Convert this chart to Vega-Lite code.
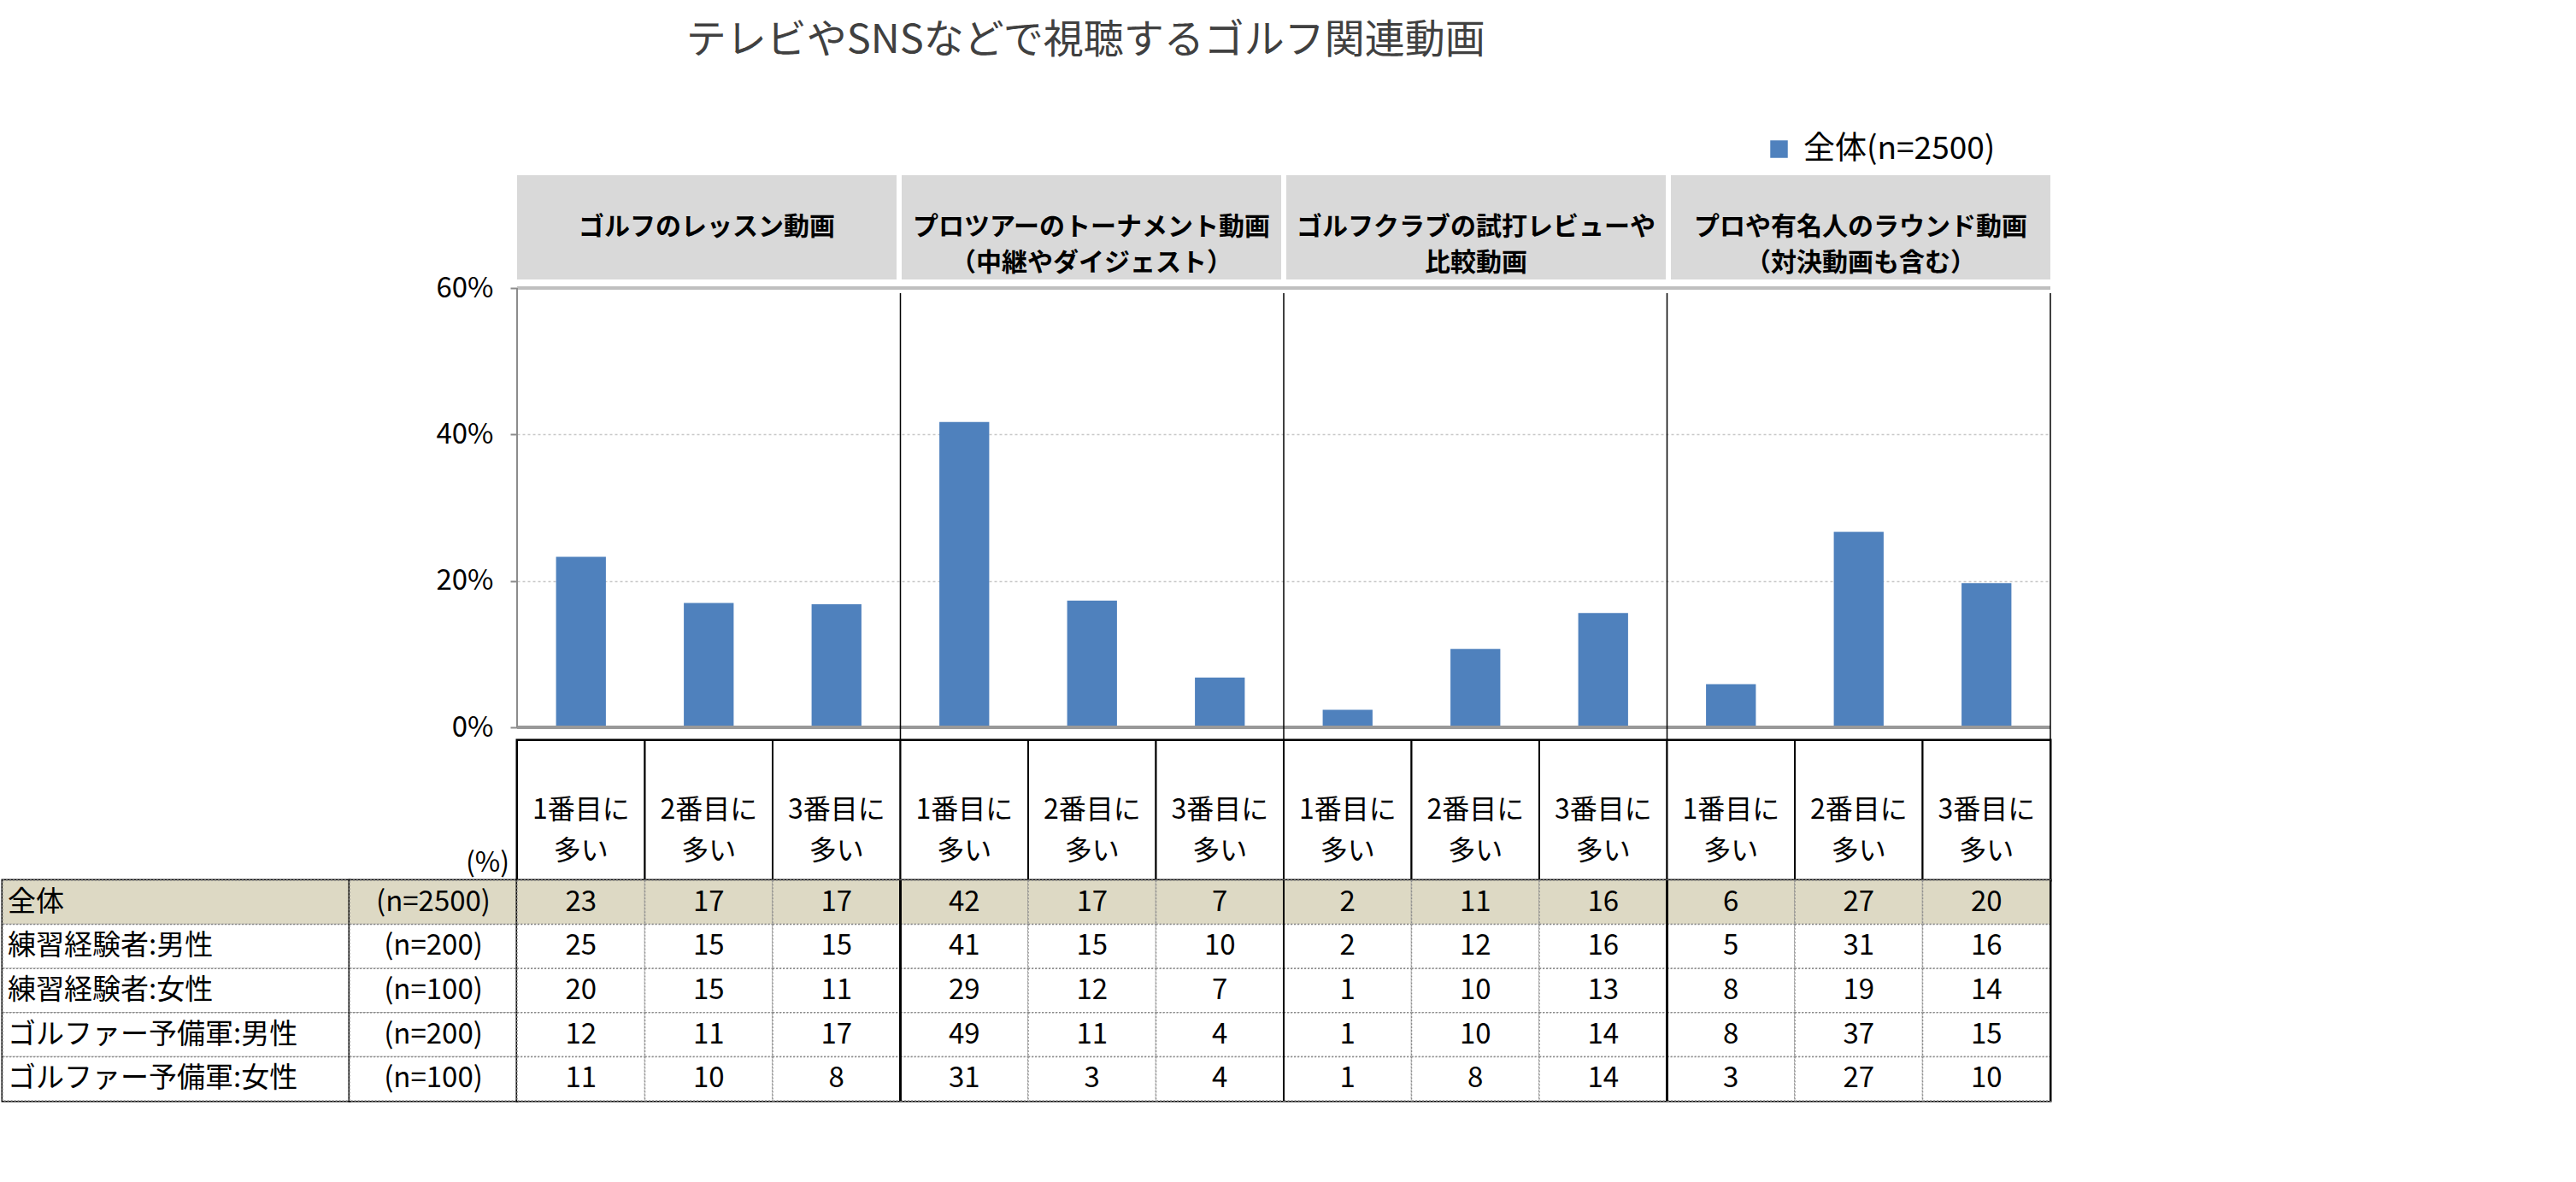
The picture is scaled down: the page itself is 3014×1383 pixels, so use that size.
{
  "$schema": "https://vega.github.io/schema/vega-lite/v6.json",
  "padding": {"left": 0, "top": 24, "right": 0, "bottom": 0},
  "title": {
    "text": "テレビやSNSなどで視聴するゴルフ関連動画",
    "anchor": "start",
    "dx": 802,
    "fontSize": 47,
    "fontWeight": "normal",
    "color": "#404040",
    "offset": 84
  },
  "data": {
    "values": [
      {"topic": "ゴルフのレッスン動画", "rank": "1番目に多い", "segment": "全体", "n": 2500, "pct": 23.3},
      {"topic": "ゴルフのレッスン動画", "rank": "1番目に多い", "segment": "練習経験者:男性", "n": 200, "pct": 25},
      {"topic": "ゴルフのレッスン動画", "rank": "1番目に多い", "segment": "練習経験者:女性", "n": 100, "pct": 20},
      {"topic": "ゴルフのレッスン動画", "rank": "1番目に多い", "segment": "ゴルファー予備軍:男性", "n": 200, "pct": 12},
      {"topic": "ゴルフのレッスン動画", "rank": "1番目に多い", "segment": "ゴルファー予備軍:女性", "n": 100, "pct": 11},
      {"topic": "ゴルフのレッスン動画", "rank": "2番目に多い", "segment": "全体", "n": 2500, "pct": 17.0},
      {"topic": "ゴルフのレッスン動画", "rank": "2番目に多い", "segment": "練習経験者:男性", "n": 200, "pct": 15},
      {"topic": "ゴルフのレッスン動画", "rank": "2番目に多い", "segment": "練習経験者:女性", "n": 100, "pct": 15},
      {"topic": "ゴルフのレッスン動画", "rank": "2番目に多い", "segment": "ゴルファー予備軍:男性", "n": 200, "pct": 11},
      {"topic": "ゴルフのレッスン動画", "rank": "2番目に多い", "segment": "ゴルファー予備軍:女性", "n": 100, "pct": 10},
      {"topic": "ゴルフのレッスン動画", "rank": "3番目に多い", "segment": "全体", "n": 2500, "pct": 16.8},
      {"topic": "ゴルフのレッスン動画", "rank": "3番目に多い", "segment": "練習経験者:男性", "n": 200, "pct": 15},
      {"topic": "ゴルフのレッスン動画", "rank": "3番目に多い", "segment": "練習経験者:女性", "n": 100, "pct": 11},
      {"topic": "ゴルフのレッスン動画", "rank": "3番目に多い", "segment": "ゴルファー予備軍:男性", "n": 200, "pct": 17},
      {"topic": "ゴルフのレッスン動画", "rank": "3番目に多い", "segment": "ゴルファー予備軍:女性", "n": 100, "pct": 8},
      {"topic": "プロツアーのトーナメント動画\n（中継やダイジェスト）", "rank": "1番目に多い", "segment": "全体", "n": 2500, "pct": 41.7},
      {"topic": "プロツアーのトーナメント動画\n（中継やダイジェスト）", "rank": "1番目に多い", "segment": "練習経験者:男性", "n": 200, "pct": 41},
      {"topic": "プロツアーのトーナメント動画\n（中継やダイジェスト）", "rank": "1番目に多い", "segment": "練習経験者:女性", "n": 100, "pct": 29},
      {"topic": "プロツアーのトーナメント動画\n（中継やダイジェスト）", "rank": "1番目に多い", "segment": "ゴルファー予備軍:男性", "n": 200, "pct": 49},
      {"topic": "プロツアーのトーナメント動画\n（中継やダイジェスト）", "rank": "1番目に多い", "segment": "ゴルファー予備軍:女性", "n": 100, "pct": 31},
      {"topic": "プロツアーのトーナメント動画\n（中継やダイジェスト）", "rank": "2番目に多い", "segment": "全体", "n": 2500, "pct": 17.3},
      {"topic": "プロツアーのトーナメント動画\n（中継やダイジェスト）", "rank": "2番目に多い", "segment": "練習経験者:男性", "n": 200, "pct": 15},
      {"topic": "プロツアーのトーナメント動画\n（中継やダイジェスト）", "rank": "2番目に多い", "segment": "練習経験者:女性", "n": 100, "pct": 12},
      {"topic": "プロツアーのトーナメント動画\n（中継やダイジェスト）", "rank": "2番目に多い", "segment": "ゴルファー予備軍:男性", "n": 200, "pct": 11},
      {"topic": "プロツアーのトーナメント動画\n（中継やダイジェスト）", "rank": "2番目に多い", "segment": "ゴルファー予備軍:女性", "n": 100, "pct": 3},
      {"topic": "プロツアーのトーナメント動画\n（中継やダイジェスト）", "rank": "3番目に多い", "segment": "全体", "n": 2500, "pct": 6.8},
      {"topic": "プロツアーのトーナメント動画\n（中継やダイジェスト）", "rank": "3番目に多い", "segment": "練習経験者:男性", "n": 200, "pct": 10},
      {"topic": "プロツアーのトーナメント動画\n（中継やダイジェスト）", "rank": "3番目に多い", "segment": "練習経験者:女性", "n": 100, "pct": 7},
      {"topic": "プロツアーのトーナメント動画\n（中継やダイジェスト）", "rank": "3番目に多い", "segment": "ゴルファー予備軍:男性", "n": 200, "pct": 4},
      {"topic": "プロツアーのトーナメント動画\n（中継やダイジェスト）", "rank": "3番目に多い", "segment": "ゴルファー予備軍:女性", "n": 100, "pct": 4},
      {"topic": "ゴルフクラブの試打レビューや\n比較動画", "rank": "1番目に多い", "segment": "全体", "n": 2500, "pct": 2.4},
      {"topic": "ゴルフクラブの試打レビューや\n比較動画", "rank": "1番目に多い", "segment": "練習経験者:男性", "n": 200, "pct": 2},
      {"topic": "ゴルフクラブの試打レビューや\n比較動画", "rank": "1番目に多い", "segment": "練習経験者:女性", "n": 100, "pct": 1},
      {"topic": "ゴルフクラブの試打レビューや\n比較動画", "rank": "1番目に多い", "segment": "ゴルファー予備軍:男性", "n": 200, "pct": 1},
      {"topic": "ゴルフクラブの試打レビューや\n比較動画", "rank": "1番目に多い", "segment": "ゴルファー予備軍:女性", "n": 100, "pct": 1},
      {"topic": "ゴルフクラブの試打レビューや\n比較動画", "rank": "2番目に多い", "segment": "全体", "n": 2500, "pct": 10.7},
      {"topic": "ゴルフクラブの試打レビューや\n比較動画", "rank": "2番目に多い", "segment": "練習経験者:男性", "n": 200, "pct": 12},
      {"topic": "ゴルフクラブの試打レビューや\n比較動画", "rank": "2番目に多い", "segment": "練習経験者:女性", "n": 100, "pct": 10},
      {"topic": "ゴルフクラブの試打レビューや\n比較動画", "rank": "2番目に多い", "segment": "ゴルファー予備軍:男性", "n": 200, "pct": 10},
      {"topic": "ゴルフクラブの試打レビューや\n比較動画", "rank": "2番目に多い", "segment": "ゴルファー予備軍:女性", "n": 100, "pct": 8},
      {"topic": "ゴルフクラブの試打レビューや\n比較動画", "rank": "3番目に多い", "segment": "全体", "n": 2500, "pct": 15.6},
      {"topic": "ゴルフクラブの試打レビューや\n比較動画", "rank": "3番目に多い", "segment": "練習経験者:男性", "n": 200, "pct": 16},
      {"topic": "ゴルフクラブの試打レビューや\n比較動画", "rank": "3番目に多い", "segment": "練習経験者:女性", "n": 100, "pct": 13},
      {"topic": "ゴルフクラブの試打レビューや\n比較動画", "rank": "3番目に多い", "segment": "ゴルファー予備軍:男性", "n": 200, "pct": 14},
      {"topic": "ゴルフクラブの試打レビューや\n比較動画", "rank": "3番目に多い", "segment": "ゴルファー予備軍:女性", "n": 100, "pct": 14},
      {"topic": "プロや有名人のラウンド動画\n（対決動画も含む）", "rank": "1番目に多い", "segment": "全体", "n": 2500, "pct": 5.9},
      {"topic": "プロや有名人のラウンド動画\n（対決動画も含む）", "rank": "1番目に多い", "segment": "練習経験者:男性", "n": 200, "pct": 5},
      {"topic": "プロや有名人のラウンド動画\n（対決動画も含む）", "rank": "1番目に多い", "segment": "練習経験者:女性", "n": 100, "pct": 8},
      {"topic": "プロや有名人のラウンド動画\n（対決動画も含む）", "rank": "1番目に多い", "segment": "ゴルファー予備軍:男性", "n": 200, "pct": 8},
      {"topic": "プロや有名人のラウンド動画\n（対決動画も含む）", "rank": "1番目に多い", "segment": "ゴルファー予備軍:女性", "n": 100, "pct": 3},
      {"topic": "プロや有名人のラウンド動画\n（対決動画も含む）", "rank": "2番目に多い", "segment": "全体", "n": 2500, "pct": 26.7},
      {"topic": "プロや有名人のラウンド動画\n（対決動画も含む）", "rank": "2番目に多い", "segment": "練習経験者:男性", "n": 200, "pct": 31},
      {"topic": "プロや有名人のラウンド動画\n（対決動画も含む）", "rank": "2番目に多い", "segment": "練習経験者:女性", "n": 100, "pct": 19},
      {"topic": "プロや有名人のラウンド動画\n（対決動画も含む）", "rank": "2番目に多い", "segment": "ゴルファー予備軍:男性", "n": 200, "pct": 37},
      {"topic": "プロや有名人のラウンド動画\n（対決動画も含む）", "rank": "2番目に多い", "segment": "ゴルファー予備軍:女性", "n": 100, "pct": 27},
      {"topic": "プロや有名人のラウンド動画\n（対決動画も含む）", "rank": "3番目に多い", "segment": "全体", "n": 2500, "pct": 19.7},
      {"topic": "プロや有名人のラウンド動画\n（対決動画も含む）", "rank": "3番目に多い", "segment": "練習経験者:男性", "n": 200, "pct": 16},
      {"topic": "プロや有名人のラウンド動画\n（対決動画も含む）", "rank": "3番目に多い", "segment": "練習経験者:女性", "n": 100, "pct": 14},
      {"topic": "プロや有名人のラウンド動画\n（対決動画も含む）", "rank": "3番目に多い", "segment": "ゴルファー予備軍:男性", "n": 200, "pct": 15},
      {"topic": "プロや有名人のラウンド動画\n（対決動画も含む）", "rank": "3番目に多い", "segment": "ゴルファー予備軍:女性", "n": 100, "pct": 10}
    ]
  },
  "transform": [
    {"calculate": "datum.topic + '|' + datum.rank", "as": "col"},
    {"calculate": "'(n=' + datum.n + ')'", "as": "nLabel"},
    {"calculate": "datum.segment + datum.nLabel", "as": "series"}
  ],
  "columns": 3,
  "spacing": {"row": 0, "column": 0},
  "bounds": "flush",
  "concat": [
    {"width": 406, "height": 122, "data": {"values": []}, "mark": "text"},
    {"width": 196, "height": 122, "data": {"values": []}, "mark": "text"},
    {
      "width": 1794,
      "height": 122,
      "transform": [{"filter": "datum.segment == '全体' && datum.rank == '1番目に多い'"}],
      "layer": [
        {
          "mark": {"type": "rect", "fill": "#d9d9d9"},
          "encoding": {
            "x": {"field": "topic", "type": "nominal", "sort": null, "axis": null, "scale": {"paddingInner": 0.0134, "paddingOuter": 0}}
          }
        },
        {
          "mark": {"type": "text", "lineBreak": "\n", "fontSize": 30, "fontWeight": "bold", "lineHeight": 42},
          "encoding": {
            "x": {"field": "topic", "type": "nominal", "sort": null, "axis": null},
            "text": {"field": "topic"}
          }
        }
      ]
    },
    {"width": 406, "height": 539, "data": {"values": []}, "mark": "text"},
    {"width": 196, "height": 539, "data": {"values": []}, "mark": "text"},
    {
      "width": 1794,
      "height": 539,
      "transform": [{"filter": "datum.segment == '全体'"}],
      "layer": [
        {
          "mark": {"type": "bar", "width": {"band": 0.39}},
          "encoding": {
            "x": {"field": "col", "type": "nominal", "sort": null, "axis": null, "scale": {"paddingInner": 0, "paddingOuter": 0}},
            "y": {
              "field": "pct",
              "type": "quantitative",
              "scale": {"domain": [-1.75, 61.17], "nice": false, "zero": false},
              "axis": {
                "values": [0, 20, 40, 60],
                "labelExpr": "datum.value + '%'",
                "title": null,
                "domain": false,
                "labelFontSize": 33,
                "labelColor": "black",
                "labelPadding": 20,
                "tickColor": "#8c8c8c",
                "tickSize": 8,
                "tickWidth": 2,
                "grid": true,
                "gridDash": [3, 3],
                "gridColor": "#c8c8c8",
                "gridWidth": 1.5
              }
            },
            "color": {
              "field": "series",
              "type": "nominal",
              "scale": {"range": ["#4f81bd"]},
              "legend": {
                "orient": "none",
                "legendX": 2060,
                "legendY": -49,
                "title": null,
                "symbolType": "square",
                "symbolSize": 420,
                "symbolStrokeWidth": 0,
                "labelFontSize": 37,
                "labelColor": "black",
                "labelOffset": 10,
                "labelLimit": 0
              }
            }
          }
        },
        {
          "mark": {"type": "rule", "color": "#bfbfbf", "strokeWidth": 4},
          "encoding": {"y": {"datum": 60}}
        },
        {
          "mark": {"type": "rule", "color": "#999999", "strokeWidth": 4},
          "encoding": {"y": {"datum": 0}}
        },
        {
          "mark": {"type": "rule", "color": "#8c8c8c", "strokeWidth": 2},
          "encoding": {
            "x": {"field": "col", "type": "nominal", "sort": null, "bandPosition": 0, "axis": null},
            "y": {"datum": 60},
            "y2": {"datum": 0},
            "strokeOpacity": {"condition": {"test": "datum.rank == '1番目に多い' && datum.topic == 'ゴルフのレッスン動画'", "value": 1}, "value": 0}
          }
        },
        {
          "mark": {"type": "rule", "color": "black", "strokeWidth": 1.5},
          "encoding": {
            "x": {"field": "col", "type": "nominal", "sort": null, "bandPosition": 1, "axis": null},
            "y": {"datum": 59.3},
            "y2": {"datum": -1.75},
            "strokeOpacity": {"condition": {"test": "datum.rank == '3番目に多い'", "value": 1}, "value": 0}
          }
        }
      ]
    },
    {"width": 406, "height": 164, "data": {"values": []}, "mark": "text"},
    {
      "width": 196,
      "height": 164,
      "data": {"values": [{"unit": "(%)"}]},
      "mark": {"type": "text", "align": "right", "baseline": "bottom", "dx": -9, "dy": -3, "fontSize": 32},
      "encoding": {
        "x": {"datum": 1, "type": "quantitative", "scale": {"domain": [0, 1]}, "axis": null},
        "y": {"datum": 0, "type": "quantitative", "scale": {"domain": [0, 1]}, "axis": null},
        "text": {"field": "unit"}
      }
    },
    {
      "width": 1794,
      "height": 164,
      "view": {"stroke": "black", "strokeWidth": 3},
      "transform": [
        {"filter": "datum.segment == '全体'"},
        {"calculate": "substring(datum.rank, 0, 4) + '\\n' + substring(datum.rank, 4)", "as": "rankText"}
      ],
      "layer": [
        {
          "mark": {"type": "rect", "fill": "white", "stroke": "black", "strokeWidth": 2},
          "encoding": {
            "x": {"field": "col", "type": "nominal", "sort": null, "axis": null, "scale": {"paddingInner": 0, "paddingOuter": 0}}
          }
        },
        {
          "mark": {"type": "text", "lineBreak": "\n", "fontSize": 32, "lineHeight": 48},
          "encoding": {
            "x": {"field": "col", "type": "nominal", "sort": null, "axis": null},
            "text": {"field": "rankText"}
          }
        }
      ]
    },
    {
      "width": 406,
      "height": 258,
      "view": {"stroke": "black", "strokeWidth": 3},
      "transform": [{"filter": "datum.topic == 'ゴルフのレッスン動画' && datum.rank == '1番目に多い'"}],
      "layer": [
        {
          "mark": {"type": "rect", "stroke": "#8c8c8c", "strokeWidth": 1.5, "strokeDash": [2, 2]},
          "encoding": {
            "y": {"field": "segment", "type": "nominal", "sort": null, "axis": null},
            "fill": {"condition": {"test": "datum.segment == '全体'", "value": "#ddd9c4"}, "value": "white"}
          }
        },
        {
          "mark": {"type": "text", "align": "left", "dx": 6, "fontSize": 33},
          "encoding": {
            "x": {"datum": 0, "type": "quantitative", "scale": {"domain": [0, 1]}, "axis": null},
            "y": {"field": "segment", "type": "nominal", "sort": null, "axis": null},
            "text": {"field": "segment"}
          }
        }
      ]
    },
    {
      "width": 196,
      "height": 258,
      "view": {"stroke": "black", "strokeWidth": 3},
      "transform": [{"filter": "datum.topic == 'ゴルフのレッスン動画' && datum.rank == '1番目に多い'"}],
      "layer": [
        {
          "mark": {"type": "rect", "stroke": "#8c8c8c", "strokeWidth": 1.5, "strokeDash": [2, 2]},
          "encoding": {
            "y": {"field": "segment", "type": "nominal", "sort": null, "axis": null},
            "fill": {"condition": {"test": "datum.segment == '全体'", "value": "#ddd9c4"}, "value": "white"}
          }
        },
        {
          "mark": {"type": "text", "fontSize": 33},
          "encoding": {
            "y": {"field": "segment", "type": "nominal", "sort": null, "axis": null},
            "text": {"field": "nLabel"}
          }
        }
      ]
    },
    {
      "width": 1794,
      "height": 258,
      "view": {"stroke": "black", "strokeWidth": 3},
      "layer": [
        {
          "mark": {"type": "rect", "stroke": "#8c8c8c", "strokeWidth": 1.5, "strokeDash": [2, 2]},
          "encoding": {
            "x": {"field": "col", "type": "nominal", "sort": null, "axis": null, "scale": {"paddingInner": 0, "paddingOuter": 0}},
            "y": {"field": "segment", "type": "nominal", "sort": null, "axis": null},
            "fill": {"condition": {"test": "datum.segment == '全体'", "value": "#ddd9c4"}, "value": "white"}
          }
        },
        {
          "mark": {"type": "rule", "color": "black", "strokeWidth": 2},
          "encoding": {
            "x": {"field": "col", "type": "nominal", "sort": null, "bandPosition": 1, "axis": null},
            "strokeOpacity": {"condition": {"test": "datum.rank == '3番目に多い'", "value": 1}, "value": 0}
          }
        },
        {
          "mark": {"type": "text", "fontSize": 33},
          "encoding": {
            "x": {"field": "col", "type": "nominal", "sort": null, "axis": null},
            "y": {"field": "segment", "type": "nominal", "sort": null, "axis": null},
            "text": {"field": "pct", "type": "quantitative", "format": ".0f"}
          }
        }
      ]
    }
  ],
  "config": {
    "font": "Noto Sans CJK JP",
    "view": {"stroke": null},
    "text": {"color": "black"}
  }
}
